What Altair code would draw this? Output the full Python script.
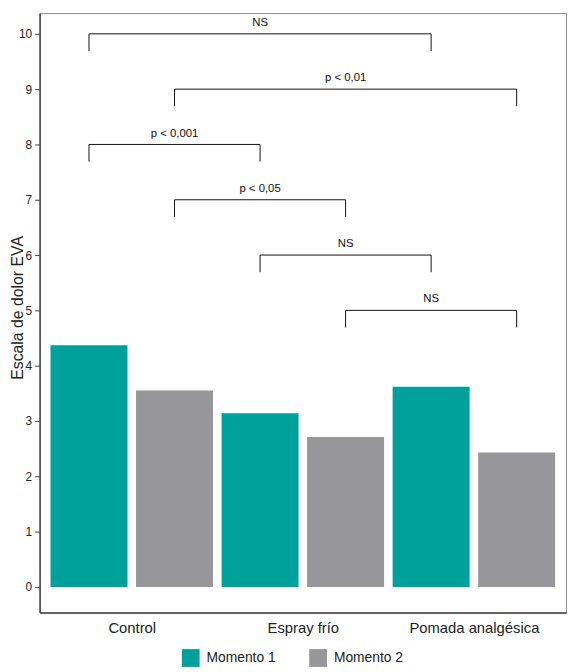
import altair as alt
import pandas as pd

groups = ["Control", "Espray frío", "Pomada analgésica"]
series = ["Momento 1", "Momento 2"]
momento1 = [4.37, 3.14, 3.62]
momento2 = [3.55, 2.71, 2.43]

# comparisons: bar index from, bar index to, bracket level, label
cmp_from = [1, 2, 1, 2, 3, 4]
cmp_to = [5, 6, 3, 4, 5, 6]
cmp_level = [10, 9, 8, 7, 6, 5]
cmp_label = ["NS", "p < 0,01", "p < 0,001", "p < 0,05", "NS", "NS"]
drop = 0.31

y_ticks = list(range(0, 11))
group_ticks = [1.5, 3.5, 5.5]

teal = "#00A19B"
grey = "#97979B"
font = "Liberation Sans"

rows = []
for g, name in enumerate(groups):
    for s, (sname, vals) in enumerate(zip(series, [momento1, momento2])):
        rows.append({"grupo": name, "momento": sname, "idx": 2 * g + s + 1, "valor": vals[g]})
bars_df = pd.DataFrame(rows)

seg = []
lab = []
for a, b, lv, t in zip(cmp_from, cmp_to, cmp_level, cmp_label):
    seg.append({"x": a, "x2": b, "y": lv, "y2": lv})
    seg.append({"x": a, "x2": a, "y": lv, "y2": lv - drop})
    seg.append({"x": b, "x2": b, "y": lv, "y2": lv - drop})
    lab.append({"xm": (a + b) / 2, "y": lv, "label": t})
seg_df = pd.DataFrame(seg)
lab_df = pd.DataFrame(lab)

xscale = alt.Scale(domain=[0.4226, 6.577], nice=False, zero=False)
yscale = alt.Scale(domain=[-0.464, 10.375], nice=False, zero=False)

label_js = "[" + ",".join("'" + g + "'" for g in groups) + "]"

xaxis = alt.Axis(
    values=group_ticks,
    labelExpr=f"{label_js}[floor(datum.value / 2)]",
    ticks=False,
    grid=False,
    labelPadding=8,
    labelFontSize=15,
    labelColor="#222",
    labelFont=font,
    domainColor="#444",
    domainWidth=1.5,
    title=None,
)
yaxis = alt.Axis(
    values=y_ticks,
    format="d",
    grid=False,
    tickSize=5,
    tickColor="#444",
    tickWidth=1,
    labelPadding=3,
    labelFontSize=12,
    labelColor="#222",
    labelFont=font,
    domainColor="#444",
    domainWidth=1.5,
    title="Escala de dolor EVA",
    titleFont=font,
    titleFontSize=16,
    titleFontWeight="normal",
    titleColor="#222",
    titleX=-17,
    titleY=298,
    titleAngle=270,
    titleAlign="center",
    titleBaseline="alphabetic",
)

bars = (
    alt.Chart(bars_df)
    .transform_calculate(x0="datum.idx - 0.45", x1="datum.idx + 0.45", base="0")
    .mark_bar()
    .encode(
        x=alt.X("x0:Q", scale=xscale, axis=xaxis),
        x2="x1:Q",
        y=alt.Y("valor:Q", scale=yscale, axis=yaxis),
        y2="base:Q",
        color=alt.Color(
            "momento:N",
            scale=alt.Scale(domain=series, range=[teal, grey]),
            legend=alt.Legend(
                title=None,
                orient="none",
                legendX=144,
                legendY=644,
                direction="horizontal",
                symbolType="square",
                symbolSize=324,
                symbolStrokeWidth=0,
                labelFontSize=14,
                labelFont=font,
                labelColor="#222",
                labelOffset=7,
                columnPadding=33,
                padding=0,
            ),
        ),
    )
)

rules = (
    alt.Chart(seg_df)
    .mark_rule(color="#111", strokeWidth=1)
    .encode(
        x=alt.X("x:Q", scale=xscale),
        x2="x2:Q",
        y=alt.Y("y:Q", scale=yscale),
        y2="y2:Q",
    )
)

texts = (
    alt.Chart(lab_df)
    .mark_text(font=font, fontSize=11.5, color="#111", baseline="alphabetic", dy=-8)
    .encode(
        x=alt.X("xm:Q", scale=xscale),
        y=alt.Y("y:Q", scale=yscale),
        text="label:N",
    )
)

chart = (
    alt.layer(bars, rules, texts)
    .properties(
        width=533,
        height=607,
        autosize=alt.AutoSizeParams(type="none"),
        padding={"left": 32, "top": 1, "right": 1, "bottom": 56},
    )
    .configure_view(stroke="#8a8a8a", strokeWidth=1)
)

chart.save("out.html", embed_options={"renderer": "svg", "actions": False})
